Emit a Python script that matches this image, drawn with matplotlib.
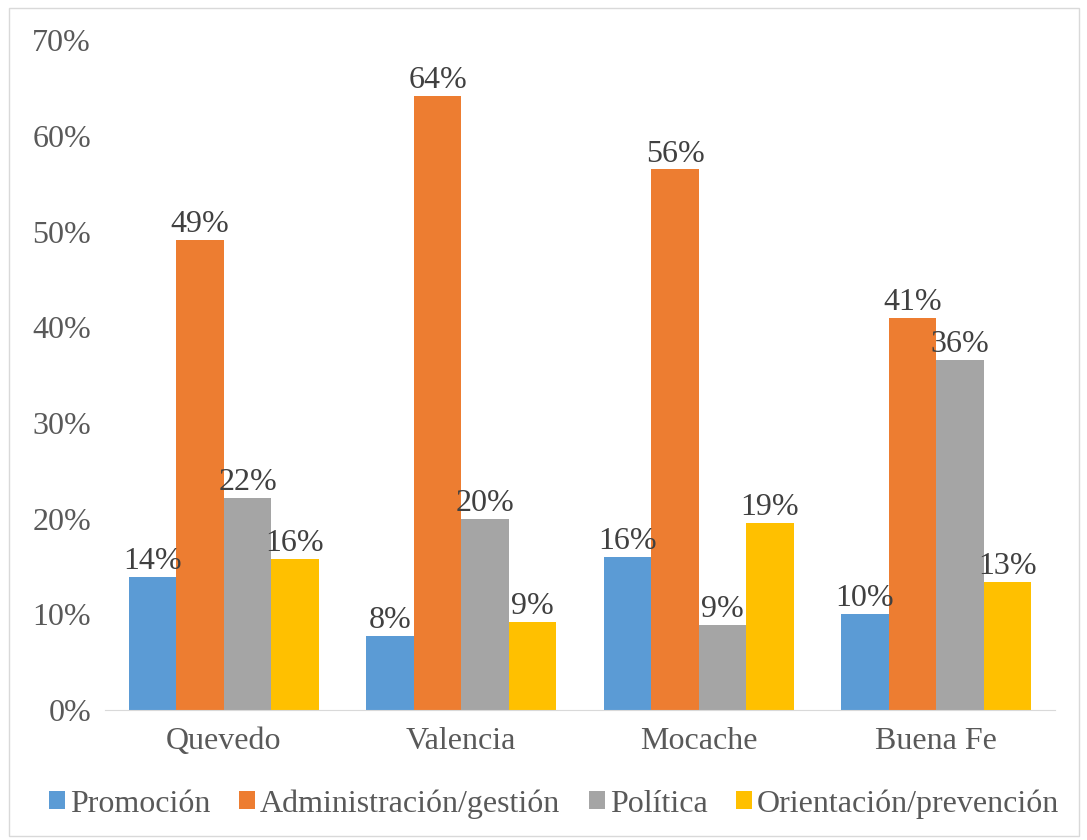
import numpy as np
import matplotlib.pyplot as plt
from matplotlib.patches import Rectangle

# data
ciudades = ['Quevedo', 'Valencia', 'Mocache', 'Buena Fe']
series = ['Promoción', 'Administración/gestión', 'Política', 'Orientación/prevención']
promocion = [0.139, 0.077, 0.160, 0.100]
administracion = [0.491, 0.642, 0.565, 0.410]
politica = [0.222, 0.200, 0.089, 0.366]
orientacion = [0.158, 0.092, 0.195, 0.134]
etiquetas = [['14%', '8%', '16%', '10%'],
             ['49%', '64%', '56%', '41%'],
             ['22%', '20%', '9%', '36%'],
             ['16%', '9%', '19%', '13%']]

colores = ['#5B9BD5', '#ED7D31', '#A5A5A5', '#FFC000']
valores = [promocion, administracion, politica, orientacion]

plt.rcParams['font.family'] = ['Liberation Serif', 'DejaVu Serif']

fig = plt.figure(figsize=(10.87, 8.4), dpi=100)
fig.patches.append(Rectangle((0.008, 0.005), 0.985, 0.985, transform=fig.transFigure,
                             fill=False, edgecolor='#D9D9D9', lw=1))
ax = fig.add_axes([0.0966, 0.1548, 0.874, 0.7972])

x = np.arange(len(ciudades))
w = 0.2
for i, (vals, col, name) in enumerate(zip(valores, colores, series)):
    pos = x + (i - 1.5) * w
    ax.bar(pos, vals, width=w, color=col, label=name)
    for px, v, t in zip(pos, vals, etiquetas[i]):
        ax.text(px, v + 0.001, t, ha='center', va='bottom', fontsize=23, color='#404040')

ax.set_ylim(0, 0.7)
ax.set_xlim(-0.5, 3.5)
ax.set_yticks(np.arange(0, 0.71, 0.1))
ax.set_yticklabels(['%d%%' % (v * 100) for v in np.arange(0, 0.71, 0.1).round(2)])
ax.set_xticks(x)
ax.set_xticklabels(ciudades)
ax.tick_params(axis='both', length=0, labelsize=23, labelcolor='#595959')
ax.tick_params(axis='x', pad=12)
ax.tick_params(axis='y', pad=10)
for s in ['top', 'right', 'left']:
    ax.spines[s].set_visible(False)
ax.spines['bottom'].set_color('#D9D9D9')

fig.legend(loc='center', bbox_to_anchor=(0.51, 0.043), ncol=4, frameon=False,
           fontsize=23, handlelength=0.5, handleheight=0.5, handletextpad=0.15,
           columnspacing=0.9, labelcolor='#595959')

fig.savefig('out.png', dpi=100)
